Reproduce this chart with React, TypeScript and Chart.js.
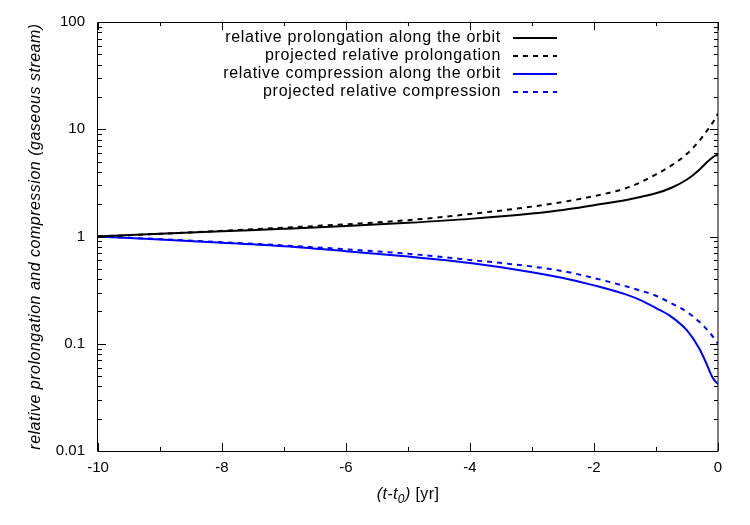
import { useEffect, useRef } from "react";
import { Chart, registerables } from "chart.js";

Chart.register(...registerables);

const times = [-10, -9, -8, -7, -6, -5, -4, -3, -2.5, -2, -1.5, -1.25, -1, -0.75, -0.5, -0.3, -0.2, -0.1, -0.05, 0];
const prolongation = [1.0, 1.06, 1.12, 1.18, 1.25, 1.34, 1.46, 1.64, 1.77, 1.96, 2.18, 2.34, 2.53, 2.85, 3.4, 4.2, 4.8, 5.4, 5.65, 5.8];
const projectedProlongation = [1.0, 1.06, 1.13, 1.21, 1.3, 1.42, 1.62, 1.9, 2.1, 2.38, 2.8, 3.2, 3.8, 4.6, 5.9, 7.8, 9.3, 11.2, 12.5, 14.0];
const compression = [1.0, 0.94, 0.875, 0.81, 0.73, 0.65, 0.565, 0.465, 0.41, 0.35, 0.29, 0.255, 0.215, 0.178, 0.133, 0.09, 0.068, 0.05, 0.045, 0.042];
const projectedCompression = [1.0, 0.945, 0.885, 0.825, 0.76, 0.69, 0.605, 0.525, 0.475, 0.41, 0.345, 0.313, 0.28, 0.238, 0.198, 0.16, 0.14, 0.12, 0.11, 0.1];

const seriesLabels = [
  "relative prolongation along the orbit",
  "projected relative prolongation",
  "relative compression along the orbit",
  "projected relative compression",
];
const seriesColors = ["#000000", "#000000", "#0000ff", "#0000ff"];
const seriesDashed = [false, true, false, true];

const yTickValues = [0.01, 0.1, 1, 10, 100];
const yTickLabels = ["0.01", "0.1", "1", "10", "100"];
const xTickValues = [-10, -8, -6, -4, -2, 0];
const xMinorTickValues = [-9, -7, -5, -3, -1];

const yTitle = "relative prolongation and compression (gaseous stream)";
const FONT = "'Liberation Sans', Arial, Helvetica, sans-serif";

const framePlugin = {
  id: "gnuplotFrame",
  afterDraw(chart: any) {
    const { ctx, chartArea } = chart;
    const { left, right, top, bottom } = chartArea;
    const xs = chart.scales.x;
    const ys = chart.scales.y;
    ctx.save();
    ctx.strokeStyle = "#000";
    ctx.lineWidth = 1;
    ctx.setLineDash([]);
    ctx.beginPath();
    ctx.rect(left - 0.5, top + 0.5, right - left + 0.5, bottom - top);
    ctx.stroke();

    const major = 8;
    const minor = 4;
    ctx.beginPath();
    for (let e = -2; e <= 1; e++) {
      const d = Math.pow(10, e);
      for (let k = 1; k <= 9; k++) {
        const v = k * d;
        const py = Math.round(ys.getPixelForValue(v)) + 0.5;
        const len = k === 1 ? major : minor;
        ctx.moveTo(left, py);
        ctx.lineTo(left + len, py);
        ctx.moveTo(right, py);
        ctx.lineTo(right - len, py);
      }
    }
    const drawX = (v: number, len: number) => {
      const px = Math.round(xs.getPixelForValue(v)) + 0.5;
      ctx.moveTo(px, bottom);
      ctx.lineTo(px, bottom - len);
      ctx.moveTo(px, top);
      ctx.lineTo(px, top + len);
    };
    xTickValues.forEach((v) => drawX(v, major));
    xMinorTickValues.forEach((v) => drawX(v, minor));
    ctx.stroke();

    // legend
    ctx.font = `16px ${FONT}`;
    (ctx as any).letterSpacing = "0.7px";
    ctx.fillStyle = "#000";
    ctx.textAlign = "right";
    ctx.textBaseline = "middle";
    const rowY0 = 38;
    const rowGap = 18;
    seriesLabels.forEach((lab, i) => {
      const y = rowY0 + i * rowGap;
      ctx.fillText(lab, 501, y);
      ctx.beginPath();
      ctx.strokeStyle = seriesColors[i];
      ctx.lineWidth = 2;
      ctx.setLineDash(seriesDashed[i] ? [5, 5] : []);
      ctx.moveTo(513, y);
      ctx.lineTo(557, y);
      ctx.stroke();
    });
    ctx.setLineDash([]);

    // y title
    ctx.save();
    (ctx as any).letterSpacing = "0.5px";
    ctx.font = `italic 16px ${FONT}`;
    ctx.textAlign = "center";
    ctx.textBaseline = "middle";
    ctx.translate(36, (top + bottom) / 2);
    ctx.rotate(-Math.PI / 2);
    ctx.fillText(yTitle, 0, 0);
    ctx.restore();

    // x title: (t-t0) [yr]
    (ctx as any).letterSpacing = "0.4px";
    const parts = [
      { t: "(t-t", f: `italic 16px ${FONT}`, dy: 0 },
      { t: "0", f: `italic 12px ${FONT}`, dy: 4 },
      { t: ")", f: `italic 16px ${FONT}`, dy: 0 },
      { t: " [yr]", f: `16px ${FONT}`, dy: 0 },
    ];
    let total = 0;
    const widths = parts.map((p) => {
      ctx.font = p.f;
      const w = ctx.measureText(p.t).width;
      total += w;
      return w;
    });
    let cx = (left + right) / 2 - total / 2;
    ctx.textAlign = "left";
    ctx.textBaseline = "alphabetic";
    ctx.fillStyle = "#000";
    parts.forEach((p, i) => {
      ctx.font = p.f;
      ctx.fillText(p.t, cx, 499 + p.dy);
      cx += widths[i];
    });
    (ctx as any).letterSpacing = "0px";
    ctx.restore();
  },
};

export default function App() {
  const ref = useRef<HTMLCanvasElement | null>(null);
  useEffect(() => {
    if (!ref.current) return;
    const mk = (vals: number[]) => times.map((t, i) => ({ x: t, y: vals[i] }));
    const all = [prolongation, projectedProlongation, compression, projectedCompression];
    const chart = new Chart(ref.current, {
      type: "line",
      data: {
        datasets: all.map((vals, i) => ({
          label: seriesLabels[i],
          data: mk(vals),
          borderColor: seriesColors[i],
          backgroundColor: seriesColors[i],
          borderWidth: 2,
          borderDash: seriesDashed[i] ? [5, 5] : [],
          pointRadius: 0,
          fill: false,
          cubicInterpolationMode: "monotone" as const,
        })),
      },
      options: {
        responsive: false,
        animation: false,
        layout: { padding: { top: 21, right: 32, left: 0, bottom: 0 } },
        plugins: { legend: { display: false }, tooltip: { enabled: false } },
        scales: {
          x: {
            type: "linear",
            min: -10,
            max: 0,
            afterBuildTicks: (s: any) => {
              s.ticks = xTickValues.map((v) => ({ value: v }));
            },
            afterFit: (s: any) => {
              s.height = 74;
            },
            grid: { display: false, drawTicks: false },
            border: { display: false },
            ticks: {
              color: "#000",
              font: { family: FONT, size: 15 },
              padding: 8,
              maxRotation: 0,
              autoSkip: false,
              callback: (v: any) => String(v),
            },
          },
          y: {
            type: "logarithmic",
            min: 0.01,
            max: 100,
            afterBuildTicks: (s: any) => {
              s.ticks = yTickValues.map((v) => ({ value: v }));
            },
            afterFit: (s: any) => {
              s.width = 98;
            },
            grid: { display: false, drawTicks: false },
            border: { display: false },
            ticks: {
              color: "#000",
              font: { family: FONT, size: 15 },
              padding: 13,
              autoSkip: false,
              callback: (v: any) => {
                const idx = yTickValues.findIndex((t) => Math.abs(t - Number(v)) < 1e-9 * Math.max(1, t));
                return idx >= 0 ? yTickLabels[idx] : "";
              },
            },
          },
        },
      },
      plugins: [framePlugin],
    });
    return () => chart.destroy();
  }, []);
  return (
    <div style={{ position: "absolute", left: 0, top: 0, width: 750, height: 525, background: "#fff" }}>
      <canvas ref={ref} width={750} height={525} style={{ width: 750, height: 525, display: "block" }} />
    </div>
  );
}
